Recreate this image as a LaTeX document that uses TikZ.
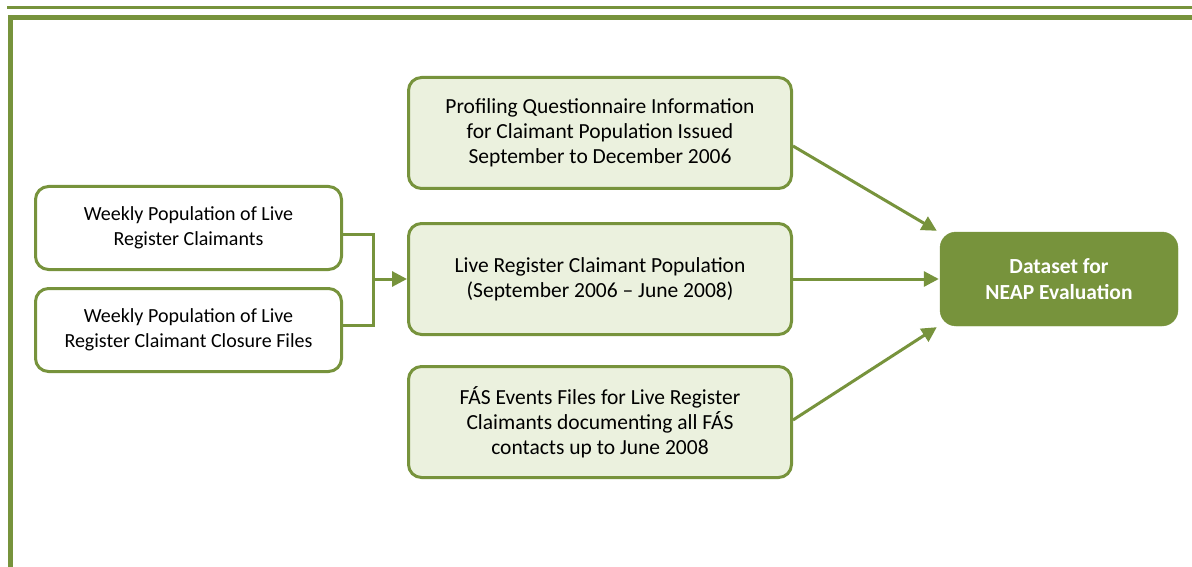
\documentclass[tikz,border=0pt]{standalone}
\usepackage{fontspec}
\setmainfont{Carlito}
\usetikzlibrary{arrows.meta}
\definecolor{olive}{HTML}{77933C}
\definecolor{palegreen}{HTML}{EBF1DE}
\tikzset{
  box/.style={draw=olive, line width=3pt, rounded corners=13pt, align=center, inner sep=0pt},
  srcbox/.style={box, fill=white, minimum width=306pt, minimum height=83pt, font=\fontsize{20}{25}\selectfont},
  midbox/.style={box, fill=palegreen, minimum width=383pt, minimum height=111pt, font=\fontsize{21.5}{25}\selectfont},
  goalbox/.style={draw=olive, fill=olive, rounded corners=16pt, text=white, align=center, minimum width=238pt, minimum height=94pt, inner sep=0pt, font=\bfseries\fontsize{21.5}{26}\selectfont},
  conn/.style={draw=olive, line width=3pt},
  arr/.style={conn, -{Triangle[length=15pt,width=15pt]}},
  frame/.style={draw=olive}
}
\begin{document}
\begin{tikzpicture}[x=1pt,y=-1pt]
\useasboundingbox (0,0) rectangle (1192,567);
% frame
\draw[frame, line width=3pt] (7,7.5) -- (1192,7.5);
\draw[frame, line width=5pt] (10.5,567) -- (10.5,17.5) -- (1192,17.5);
% nodes
\node[srcbox] (w1) at (188.5,228) {Weekly Population of Live\\Register Claimants};
\node[srcbox] (w2) at (188.5,330) {Weekly Population of Live\\Register Claimant Closure Files};
\node[midbox] (pq) at (600,133) {Profiling Questionnaire Information\\for Claimant Population Issued\\September to December 2006};
\node[midbox] (lr) at (600,279) {Live Register Claimant Population\\(September 2006 – June 2008)};
\node[midbox] (fe) at (600,422) {FÁS Events Files for Live Register\\Claimants documenting all FÁS\\contacts up to June 2008};
\node[goalbox] (ds) at (1059,279) {Dataset for\\NEAP Evaluation};
\coordinate (j) at (373.5,279);
% connectors
\draw[conn] ([yshift=-6pt]w1.east) -| (j);
\draw[conn] ([yshift=5pt]w2.east) -| (j);
\draw[arr] (j) -- (lr.west);
\draw[arr] ([yshift=-13pt]pq.east) -- ([xshift=-3pt,yshift=1pt]ds.north west);
\draw[arr] (lr.east) -- ([xshift=-1pt]ds.west);
\draw[arr] ([yshift=2pt]fe.east) -- ([xshift=-3pt,yshift=-1pt]ds.south west);
\end{tikzpicture}
\end{document}
